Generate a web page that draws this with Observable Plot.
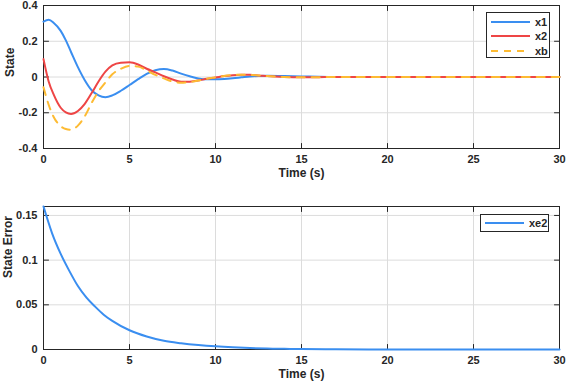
<!DOCTYPE html>
<html>
<head>
<meta charset="utf-8">
<script src="https://cdn.jsdelivr.net/npm/d3@7"></script>
<script src="https://cdn.jsdelivr.net/npm/@observablehq/plot@0.6"></script>
<style>
  html, body { margin: 0; padding: 0; background: #fff; }
  #wrap { position: relative; width: 566px; height: 387px; font-family: "Liberation Sans", Arial, sans-serif; }
  #top, #bottom { position: absolute; left: 0; }
  #top { top: 0; }
  #bottom { top: 190px; }
  .legend { position: absolute; background: #fff; border: 1px solid #262626; box-sizing: border-box;
            font: bold 11px "Liberation Sans", Arial, sans-serif; color: #262626; }
  .legend .row { position: absolute; left: 0; height: 14px; display: flex; align-items: center; }
  .legend svg { display: block; }
</style>
</head>
<body>
<div id="wrap">
  <div id="top"></div>
  <div id="bottom"></div>
</div>
<script>
// ---- data ----
const tTop = [0, 0.3, 0.6, 1.0, 1.3, 1.6, 2.0, 2.4, 2.8, 3.2, 3.6, 4.0, 4.5, 5.0, 5.5, 6.0, 6.5, 7.0, 7.5, 8.0, 8.5, 9.0, 9.5, 10, 10.5, 11, 11.5, 12, 12.5, 13, 14, 15, 16, 17, 18, 20, 25, 30];
const x1 = [0.31, 0.32, 0.302, 0.258, 0.205, 0.14, 0.055, -0.018, -0.074, -0.103, -0.113, -0.103, -0.077, -0.045, -0.012, 0.018, 0.038, 0.045, 0.036, 0.019, 0.004, -0.008, -0.013, -0.013, -0.011, -0.007, -0.002, 0.003, 0.006, 0.007, 0.005, 0.003, 0.001, 0, 0, 0, 0, 0];
const x2 = [0.10, -0.025, -0.10, -0.172, -0.198, -0.207, -0.19, -0.15, -0.09, -0.025, 0.03, 0.065, 0.08, 0.082, 0.07, 0.046, 0.026, 0.004, -0.014, -0.027, -0.026, -0.02, -0.01, -0.003, 0.005, 0.01, 0.012, 0.012, 0.009, 0.005, 0, -0.002, -0.001, 0, 0, 0, 0, 0];
const xb = [-0.057, -0.155, -0.225, -0.275, -0.291, -0.295, -0.272, -0.22, -0.145, -0.08, -0.03, 0.015, 0.046, 0.062, 0.058, 0.037, 0.012, -0.008, -0.025, -0.032, -0.028, -0.02, -0.01, -0.002, 0.006, 0.011, 0.013, 0.012, 0.009, 0.005, 0, -0.002, -0.001, 0, 0, 0, 0, 0];

const tBot = [0, 0.5, 1, 1.5, 2, 2.5, 3, 3.5, 4, 5, 6, 7, 8, 9, 10, 11, 12, 13, 14, 15, 17, 20, 25, 30];
const xe2 = [0.16, 0.13, 0.107, 0.088, 0.071, 0.058, 0.048, 0.039, 0.032, 0.0215, 0.0145, 0.0097, 0.007, 0.005, 0.0035, 0.0024, 0.0016, 0.0011, 0.0007, 0.0005, 0.0002, 0.0001, 0, 0];

const xTicks = [0, 5, 10, 15, 20, 25, 30];
const yTicksTop = [-0.4, -0.2, 0, 0.2, 0.4];
const yTicksBot = [0, 0.05, 0.1, 0.15];

const seriesTop = ["x1", "x2", "xb"];
const colors = {x1: "#3a8ef0", x2: "#ee4545", xb: "#fdbb33", xe2: "#3a8ef0"};
const ink = "#262626";

const rowsTop = [];
tTop.forEach((t, i) => {
  rowsTop.push({t, v: x1[i], s: "x1"});
  rowsTop.push({t, v: x2[i], s: "x2"});
  rowsTop.push({t, v: xb[i], s: "xb"});
});
const rowsBot = tBot.map((t, i) => ({t, v: xe2[i]}));

const tickShape = {draw(context, l) { context.moveTo(0, 0); context.lineTo(0, -l); }};

function frameMarks(yTicks) {
  return [
    Plot.gridX(xTicks, {stroke: "#dcdcdc", strokeOpacity: 1}),
    Plot.gridY(yTicks, {stroke: "#dcdcdc", strokeOpacity: 1}),
    Plot.axisX(xTicks, {tickSize: 0, tickPadding: 7, tickFormat: d => String(d), label: null, fontWeight: "bold", fill: ink}),
    Plot.axisY(yTicks, {tickSize: 0, tickPadding: 6, tickFormat: d => String(d), label: null, fontWeight: "bold", fill: ink}),
    Plot.vector(xTicks, {x: d => d, frameAnchor: "bottom", length: 5, rotate: 0, anchor: "start", shape: tickShape, stroke: ink, strokeWidth: 1}),
    Plot.vector(xTicks, {x: d => d, frameAnchor: "top", length: 5, rotate: 180, anchor: "start", shape: tickShape, stroke: ink, strokeWidth: 1}),
    Plot.vector(yTicks, {y: d => d, frameAnchor: "left", length: 5, rotate: 90, anchor: "start", shape: tickShape, stroke: ink, strokeWidth: 1}),
    Plot.vector(yTicks, {y: d => d, frameAnchor: "right", length: 5, rotate: -90, anchor: "start", shape: tickShape, stroke: ink, strokeWidth: 1}),
    Plot.frame({stroke: ink, strokeWidth: 1}),
    Plot.text(["Time (s)"], {frameAnchor: "bottom", dy: 28, fontSize: 12, fontWeight: "bold", fill: ink})
  ];
}

const common = {
  width: 566,
  marginLeft: 43,
  marginRight: 7,
  style: {fontFamily: "'Liberation Sans', Arial, sans-serif", fontSize: "11px", color: ink, background: "#fff", overflow: "visible"}
};

const topPlot = Plot.plot({
  ...common,
  height: 190,
  marginTop: 5,
  marginBottom: 42,
  x: {domain: [0, 30]},
  y: {domain: [-0.4, 0.4]},
  color: {domain: seriesTop, range: seriesTop.map(s => colors[s])},
  marks: [
    ...frameMarks(yTicksTop),
    Plot.text(["State"], {frameAnchor: "left", dx: -33, rotate: -90, fontSize: 12, fontWeight: "bold", fill: ink}),
    Plot.line(rowsTop.filter(d => d.s === "x1"), {x: "t", y: "v", stroke: colors.x1, strokeWidth: 2, curve: "monotone-x"}),
    Plot.line(rowsTop.filter(d => d.s === "x2"), {x: "t", y: "v", stroke: colors.x2, strokeWidth: 2, curve: "monotone-x"}),
    Plot.line(rowsTop.filter(d => d.s === "xb"), {x: "t", y: "v", stroke: colors.xb, strokeWidth: 2, strokeDasharray: "8,7", curve: "monotone-x"})
  ]
});
document.getElementById("top").append(topPlot);

const botPlot = Plot.plot({
  ...common,
  height: 197,
  marginTop: 16,
  marginBottom: 38,
  x: {domain: [0, 30]},
  y: {domain: [0, 0.16]},
  marks: [
    ...frameMarks(yTicksBot),
    Plot.text(["State Error"], {frameAnchor: "left", dx: -35, rotate: -90, fontSize: 12, fontWeight: "bold", fill: ink}),
    Plot.line(rowsBot, {x: "t", y: "v", stroke: colors.xe2, strokeWidth: 2, curve: "monotone-x"})
  ]
});
document.getElementById("bottom").append(botPlot);

// ---- legends ----
function legend(entries, box) {
  const div = document.createElement("div");
  div.className = "legend";
  Object.assign(div.style, {left: box.left + "px", top: box.top + "px", width: box.width + "px", height: box.height + "px"});
  entries.forEach((e, i) => {
    const row = document.createElement("div");
    row.className = "row";
    row.style.top = (box.pad + i * 14.5) + "px";
    const svg = d3.create("svg").attr("width", box.lineW + 8).attr("height", 14);
    svg.append("line").attr("x1", 4).attr("x2", 4 + box.lineW).attr("y1", 7).attr("y2", 7)
      .attr("stroke", colors[e]).attr("stroke-width", 2)
      .attr("stroke-dasharray", e === "xb" ? "7,6" : null);
    row.append(svg.node());
    const span = document.createElement("span");
    span.textContent = e;
    span.style.marginLeft = "1px";
    row.append(span);
    div.append(row);
  });
  document.getElementById("wrap").append(div);
}
legend(seriesTop, {left: 486, top: 12, width: 64, height: 46, pad: 1.5, lineW: 39});
legend(["xe2"], {left: 480, top: 214, width: 69, height: 18, pad: 1, lineW: 39});
</script>
</body>
</html>
